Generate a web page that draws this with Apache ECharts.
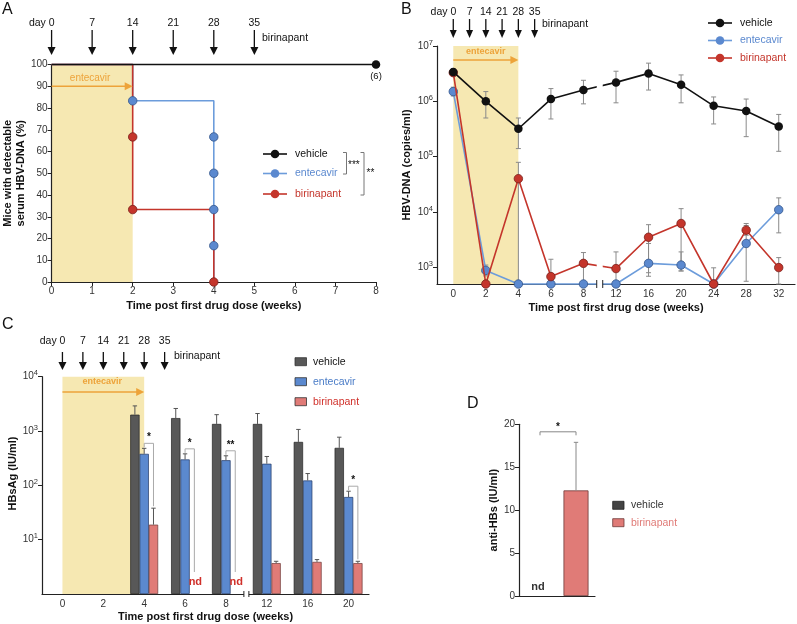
<!DOCTYPE html>
<html><head><meta charset="utf-8">
<script src="https://cdn.jsdelivr.net/npm/echarts@6.0.0/dist/echarts.min.js"></script>
<style>html,body{margin:0;padding:0;background:#fff;}#c{width:797px;height:624px;}</style>
</head><body><div id="c"></div>
<script>
// ---------------- data ----------------
// Panel A (Kaplan-Meier style, % mice with detectable HBV-DNA)
const aVehicleLine = [[0,100],[8,100]];
const aEntecavirLine = [[0,100],[2,83.3],[4,0]];
const aBirinapantLine = [[0,100],[2,33.3],[4,0]];
const aVehiclePts = [[8,100]];
const aEntecavirPts = [[2,83.3],[4,66.7],[4,50],[4,33.3],[4,16.7]];
const aBirinapantPts = [[2,66.7],[2,33.3],[4,0]];
const doseDays = [0,7,14,21,28,35];

// Panel B (HBV-DNA copies/ml)
const bCats = ['0','2','4','6','8','12','16','20','24','28','32'];
const bVehicle   = [3.4e6, 1.0e6, 3.2e5, 1.1e6, 1.6e6, 2.2e6, 3.2e6, 2.0e6, 8.3e5, 6.7e5, 3.5e5];
const bVehicleLo = [3.0e6, 5.0e5, 1.4e5, 4.8e5, 9.0e5, 9.4e5, 1.6e6, 9.4e5, 3.9e5, 2.3e5, 1.25e5];
const bVehicleHi = [3.8e6, 1.5e6, 5.0e5, 1.7e6, 2.4e6, 3.5e6, 4.9e6, 3.0e6, 1.2e6, 1.1e6, 5.8e5];
const bEntecavir   = [1.5e6, 880, 500, 500, 500, 500, 1180, 1100, 500, 2700, 1.1e4];
const bEntecavirLo = [1.25e6, 700, null, null, null, null, 800, 860, null, 560, 4200];
const bEntecavirHi = [1.8e6, 1100, null, null, null, null, 2700, 1900, null, 5700, 1.8e4];
const bBirinapant   = [3.3e6, 500, 4.0e4, 680, 1180, 950, 3500, 6200, 500, 4700, 990];
const bBirinapantLo = [3.0e6, null, 500, 500, 500, 500, 690, 860, 500, 3800, 500];
const bBirinapantHi = [3.6e6, null, 7.9e4, 1400, 1850, 1900, 5900, 1.15e4, 980, 6200, 1500];

// Panel C (HBsAg IU/ml)
const cCats = ['0','2','4','6','8','12','16','20'];
const cVehicle     = [null, null, 2000, 1730, 1350, 1350, 630, 490];
const cVehicleHi   = [null, null, 2900, 2600, 2000, 2100, 1070, 770];
const cEntecavir   = [null, null, 380, 300, 290, 250, 123, 61];
const cEntecavirHi = [null, null, 480, 380, 350, 340, 165, 78];
const cBirinapant  = [null, null, 18.9, null, null, 3.7, 3.9, 3.7];
const cBirinapantHi= [null, null, 38, null, null, 4.0, 4.3, 4.0];
const cSig = [[2,'*'],[3,'*'],[4,'**'],[7,'*']];

// Panel D (anti-HBs IU/ml)
const dCats = ['vehicle','birinapant'];
const dValues = [null, 12.3];
const dErrHi  = [null, 17.9];

// ---------------- style ----------------
const FONT = '"Liberation Sans", Arial, Helvetica, sans-serif';
const BLUE = '#5b89cf', BLUE_L = '#6c9cdb', RED = '#c4352b', SAL = '#e07b77', VGRAY = '#585858', ORANGE = '#eda33a', YEL = '#f6e8b2';
const chart = echarts.init(document.getElementById('c'));

function logLabel(v){ return '10{s|' + Math.round(Math.log10(v)) + '}'; }
const supRich = { s: { fontSize: 7.5, padding: [0,0,7,0], fontFamily: FONT, color:'#333' } };
const nameStyle = { fontWeight:'bold', fontSize:11, fontFamily:FONT, color:'#111', lineHeight:13 };
const axLine = { lineStyle:{ color:'#222', width:1.2 } };
const axTick = { length:4, lineStyle:{ color:'#222', width:1 } };
function lab(extra){ return Object.assign({ color:'#333', fontSize:10, fontFamily:FONT, margin:4 }, extra||{}); }

function bandRender(params, api){
  const p0 = api.coord([api.value(0), api.value(2)]);
  const p1 = api.coord([api.value(1), api.value(3)]);
  return { type:'rect', shape:{ x:p0[0], y:p1[1], width:p1[0]-p0[0], height:p0[1]-p1[1] }, style:{ fill:YEL } };
}
function errFull(color){
  return function(params, api){
    const x = api.value(0), lo = api.value(1), hi = api.value(2);
    const pH = api.coord([x,hi]), pL = api.coord([x,lo]); const c = 2.5;
    const st = { stroke:color, lineWidth:1 };
    return { type:'group', children:[
      { type:'line', shape:{x1:pH[0],y1:pH[1],x2:pL[0],y2:pL[1]}, style:st },
      { type:'line', shape:{x1:pH[0]-c,y1:pH[1],x2:pH[0]+c,y2:pH[1]}, style:st },
      { type:'line', shape:{x1:pL[0]-c,y1:pL[1],x2:pL[0]+c,y2:pL[1]}, style:st } ] };
  };
}
function errUp(offset, color){
  return function(params, api){
    const x = api.value(0), v = api.value(1), hi = api.value(2);
    const p0 = api.coord([x,v]), p1 = api.coord([x,hi]); const X = p0[0] + offset; const c = 2.2;
    const st = { stroke:color, lineWidth:1 };
    return { type:'group', children:[
      { type:'line', shape:{x1:X,y1:p0[1],x2:X,y2:p1[1]}, style:st },
      { type:'line', shape:{x1:X-c,y1:p1[1],x2:X+c,y2:p1[1]}, style:st } ] };
  };
}
function errData(vals, lo, hi){ return vals.map((v,i)=>[i, lo ? lo[i] : v, hi[i]]).filter(d=>d[1]!=null && d[2]!=null); }
function nz(arr){ return arr.map(v => v==null ? '-' : v); }

const BAR_W = 9.3;

const option = {
  animation:false,
  textStyle:{ fontFamily:FONT },
  grid:[
    { left:51, top:64.5, width:325, height:217.5 },
    { left:437, top:46, width:358, height:238 },
    { left:42, top:376.7, width:327, height:218.3 },
    { left:519, top:424.3, width:76, height:171.7 }
  ],
  xAxis:[
    { gridIndex:0, type:'value', min:0, max:8, interval:1, splitLine:{show:false}, axisLine:axLine, axisTick:axTick, axisLabel:lab(),
      name:'Time post first drug dose (weeks)', nameLocation:'middle', nameGap:17, nameTextStyle:nameStyle },
    { gridIndex:1, type:'category', data:bCats, boundaryGap:true, axisLine:axLine, axisTick:Object.assign({alignWithLabel:true, interval:0}, axTick), axisLabel:lab({interval:0, margin:5}),
      name:'Time post first drug dose (weeks)', nameLocation:'middle', nameGap:17, nameTextStyle:nameStyle },
    { gridIndex:2, type:'category', data:cCats, boundaryGap:true, axisLine:axLine, axisTick:Object.assign({alignWithLabel:true, interval:0}, axTick), axisLabel:lab({interval:0, margin:5}),
      name:'Time post first drug dose (weeks)', nameLocation:'middle', nameGap:16, nameTextStyle:nameStyle },
    { gridIndex:3, type:'category', data:dCats, boundaryGap:true, axisLine:axLine, axisTick:{show:false}, axisLabel:{show:false} }
  ],
  yAxis:[
    { gridIndex:0, type:'value', min:0, max:100, interval:10, splitLine:{show:false}, axisLine:Object.assign({show:true}, axLine), axisTick:Object.assign({show:true}, axTick), axisLabel:lab(),
      name:'Mice with detectable\nserum HBV-DNA (%)', nameLocation:'middle', nameGap:24, nameTextStyle:nameStyle },
    { gridIndex:1, type:'log', logBase:10, min:500, max:1e7, splitLine:{show:false}, axisLine:Object.assign({show:true}, axLine), axisTick:Object.assign({show:true}, axTick),
      axisLabel:lab({formatter:logLabel, rich:supRich, showMinLabel:false}),
      name:'HBV-DNA (copies/ml)', nameLocation:'middle', nameGap:22, nameTextStyle:nameStyle },
    { gridIndex:2, type:'log', logBase:10, min:1, max:1e4, splitLine:{show:false}, axisLine:Object.assign({show:true}, axLine), axisTick:Object.assign({show:true}, axTick),
      axisLabel:lab({formatter:logLabel, rich:supRich, showMinLabel:false}) },
    { gridIndex:3, type:'value', min:0, max:20, interval:5, splitLine:{show:false}, axisLine:Object.assign({show:true}, axLine), axisTick:Object.assign({show:true}, axTick), axisLabel:lab(),
      name:'anti-HBs (IU/ml)', nameLocation:'middle', nameGap:19, nameTextStyle:nameStyle }
  ],
  series:[
    // ---- A ----
    { type:'custom', xAxisIndex:0, yAxisIndex:0, data:[[0,2,0,100]], encode:{x:[0,1], y:[2,3]}, renderItem:bandRender, z:-1, silent:true, clip:false },
    { type:'line', xAxisIndex:0, yAxisIndex:0, data:aEntecavirLine, step:'end', symbol:'none', lineStyle:{color:BLUE_L, width:1.6}, z:3, clip:false },
    { type:'line', xAxisIndex:0, yAxisIndex:0, data:aBirinapantLine, step:'end', symbol:'none', lineStyle:{color:RED, width:1.6}, z:4, clip:false },
    { type:'line', xAxisIndex:0, yAxisIndex:0, data:aVehicleLine, symbol:'none', lineStyle:{color:'#111', width:1.6}, z:5, clip:false },
    { type:'scatter', xAxisIndex:0, yAxisIndex:0, data:aEntecavirPts, symbolSize:8.5, itemStyle:{color:BLUE, borderColor:'#34558a', borderWidth:0.8, opacity:1}, z:6, clip:false },
    { type:'scatter', xAxisIndex:0, yAxisIndex:0, data:aBirinapantPts, symbolSize:8.5, itemStyle:{color:RED, borderColor:'#7a1f1a', borderWidth:0.8, opacity:1}, z:6, clip:false },
    { type:'scatter', xAxisIndex:0, yAxisIndex:0, data:aVehiclePts, symbolSize:8.5, itemStyle:{color:'#111', opacity:1}, z:6, clip:false },
    // ---- B ----
    { type:'custom', xAxisIndex:1, yAxisIndex:1, data:[[0,2,500,1e7]], encode:{x:[0,1], y:[2,3]}, renderItem:bandRender, z:-1, silent:true, clip:false },
    { type:'custom', xAxisIndex:1, yAxisIndex:1, data:errData(bVehicle,bVehicleLo,bVehicleHi), encode:{x:0, y:[1,2]}, renderItem:errFull('#8a8a8a'), z:2, clip:false },
    { type:'custom', xAxisIndex:1, yAxisIndex:1, data:errData(bEntecavir,bEntecavirLo,bEntecavirHi), encode:{x:0, y:[1,2]}, renderItem:errFull('#8a8a8a'), z:2, clip:false },
    { type:'custom', xAxisIndex:1, yAxisIndex:1, data:errData(bBirinapant,bBirinapantLo,bBirinapantHi), encode:{x:0, y:[1,2]}, renderItem:errFull('#8a8a8a'), z:2, clip:false },
    { type:'line', xAxisIndex:1, yAxisIndex:1, data:bEntecavir, symbol:'circle', symbolSize:8.5, lineStyle:{color:BLUE_L, width:1.6}, itemStyle:{color:BLUE, borderColor:'#34558a', borderWidth:0.8}, z:4, clip:false },
    { type:'line', xAxisIndex:1, yAxisIndex:1, data:bBirinapant, symbol:'circle', symbolSize:8.5, lineStyle:{color:RED, width:1.6}, itemStyle:{color:RED, borderColor:'#7a1f1a', borderWidth:0.8}, z:5, clip:false },
    { type:'line', xAxisIndex:1, yAxisIndex:1, data:bVehicle, symbol:'circle', symbolSize:8.5, lineStyle:{color:'#111', width:1.6}, itemStyle:{color:'#111'}, z:6, clip:false },
    // ---- C ----
    { type:'custom', xAxisIndex:2, yAxisIndex:2, data:[[0,2,1,1e4]], encode:{x:[0,1], y:[2,3]}, renderItem:bandRender, z:-1, silent:true, clip:false },
    { type:'bar', xAxisIndex:2, yAxisIndex:2, data:nz(cVehicle), barWidth:BAR_W, barGap:'0%', itemStyle:{color:VGRAY, borderColor:'#222', borderWidth:0.7}, z:3 },
    { type:'bar', xAxisIndex:2, yAxisIndex:2, data:nz(cEntecavir), barWidth:BAR_W, barGap:'0%', itemStyle:{color:BLUE, borderColor:'#223a66', borderWidth:0.7}, z:3 },
    { type:'bar', xAxisIndex:2, yAxisIndex:2, data:nz(cBirinapant), barWidth:BAR_W, barGap:'0%', itemStyle:{color:SAL, borderColor:'#6d3a38', borderWidth:0.7}, z:3 },
    { type:'custom', xAxisIndex:2, yAxisIndex:2, data:errData(cVehicle,null,cVehicleHi), encode:{x:0, y:[1,2]}, renderItem:errUp(-BAR_W,'#555'), z:4, clip:false },
    { type:'custom', xAxisIndex:2, yAxisIndex:2, data:errData(cEntecavir,null,cEntecavirHi), encode:{x:0, y:[1,2]}, renderItem:errUp(0,'#555'), z:4, clip:false },
    { type:'custom', xAxisIndex:2, yAxisIndex:2, data:errData(cBirinapant,null,cBirinapantHi), encode:{x:0, y:[1,2]}, renderItem:errUp(BAR_W,'#555'), z:4, clip:false },
    // ---- D ----
    { type:'bar', xAxisIndex:3, yAxisIndex:3, data:nz(dValues), barWidth:25, itemStyle:{color:SAL, borderColor:'#6d3a38', borderWidth:0.8}, z:3 },
    { type:'custom', xAxisIndex:3, yAxisIndex:3, data:errData(dValues,null,dErrHi), encode:{x:0, y:[1,2]}, renderItem:errUp(0,'#888'), z:4, clip:false }
  ]
};
chart.setOption(option);

// ---------------- annotations ----------------
const G = [];
const px = (g, p) => chart.convertToPixel({gridIndex:g}, p);
function T(x, y, text, o, rot){ G.push({ type:'text', x, y, z:100, rotation:rot||0, style:Object.assign({ text, fill:'#111', font:'10.5px ' + FONT, align:'left', verticalAlign:'middle' }, o||{}) }); }
function L(x1,y1,x2,y2,color,w){ G.push({ type:'line', z:100, shape:{x1,y1,x2,y2}, style:{ stroke:color||'#111', lineWidth:w||1 } }); }
function P(points, fill){ G.push({ type:'polygon', z:100, shape:{points}, style:{ fill } }); }
function R(x,y,w,h,fill,stroke){ G.push({ type:'rect', z:100, shape:{x,y,width:w,height:h}, style:{ fill, stroke:stroke||null, lineWidth:stroke?0.8:0 } }); }
function C(cx,cy,r,fill,stroke){ G.push({ type:'circle', z:101, shape:{cx,cy,r}, style:{ fill, stroke:stroke||null, lineWidth:stroke?0.8:0 } }); }
function downArrow(x, y0, y1, hw){ L(x, y0, x, y1-6, '#111', 1.3); P([[x-hw,y1-8],[x+hw,y1-8],[x,y1]], '#111'); }
function rightArrow(x0, x1, y){ L(x0, y, x1-6, y, ORANGE, 1.3); P([[x1-8,y-4],[x1-8,y+4],[x1,y]], ORANGE); }
function dayRow(xs, yLab, y0, y1, hw, birX, birY){
  doseDays.forEach((d,i) => {
    const x = xs(d);
    if (i === 0) T(x+3, yLab, 'day 0', {align:'right'}); else T(x, yLab, String(d), {align:'center'});
    downArrow(x, y0, y1, hw);
  });
  T(birX, birY, 'birinapant');
}
function lineLegend(x, y, color, mColor, text, tColor){
  L(x, y, x+24, y, color, 1.6); C(x+12, y, 4.3, mColor); T(x+32, y, text, {fill:tColor});
}

// Panel labels
T(2, 10, 'A', {font:'16px ' + FONT});
T(401, 10, 'B', {font:'16px ' + FONT});
T(2, 325, 'C', {font:'16px ' + FONT});
T(467, 404, 'D', {font:'16px ' + FONT});

// ---- A ----
{
  const xs = d => px(0, [d/7, 100])[0];
  dayRow(xs, 23, 30, 55, 4, 262, 38);
  const yArr = px(0, [0, 90])[1];
  const x0 = px(0,[0,90])[0], x2 = px(0,[2,90])[0];
  rightArrow(x0, x2, yArr);
  T((x0+x2)/2 - 2, yArr - 8, 'entecavir', {fill:ORANGE, align:'center', font:'10px ' + FONT});
  const p8 = px(0, [8, 100]);
  T(p8[0], p8[1] + 12, '(6)', {align:'center', font:'9.5px ' + FONT});
  lineLegend(263, 154, '#111', '#111', 'vehicle', '#111');
  lineLegend(263, 173.5, BLUE_L, BLUE, 'entecavir', BLUE);
  lineLegend(263, 194, RED, RED, 'birinapant', RED);
  L(346.5, 152.5, 346.5, 174, '#777'); L(343, 152.5, 346.5, 152.5, '#777'); L(343, 174, 346.5, 174, '#777');
  T(348, 165, '***', {font:'10px ' + FONT});
  L(364, 152.5, 364, 195, '#777'); L(360.5, 152.5, 364, 152.5, '#777'); L(360.5, 195, 364, 195, '#777');
  T(366.5, 173, '**', {font:'10px ' + FONT});
}
// ---- B ----
{
  const c0 = px(1, [0, 1e6])[0], c1 = px(1, [1, 1e6])[0];
  const xs = d => c0 + (c1 - c0) * d / 14;
  dayRow(xs, 12, 19, 38, 3.5, 542, 24);
  const x2 = px(1, [2, 1e6])[0];
  rightArrow(c0, x2, 60);
  T((c0+x2)/2, 52, 'entecavir', {fill:ORANGE, align:'center', font:'bold 9px ' + FONT});
  lineLegend(708, 23, '#111', '#111', 'vehicle', '#111');
  lineLegend(708, 40.5, BLUE_L, BLUE, 'entecavir', BLUE);
  lineLegend(708, 58, RED, RED, 'birinapant', RED);
  // axis break between 8 and 12
  const xb = (px(1, [4, 1e6])[0] + px(1, [5, 1e6])[0]) / 2;
  const yTop = px(1, [0, 1e7])[1], yBot = px(1, [0, 500])[1];
  R(xb - 3, yTop, 6, yBot - yTop + 2, '#fff');
  L(xb - 3, yBot - 4, xb - 3, yBot + 4, '#222', 1); L(xb + 3, yBot - 4, xb + 3, yBot + 4, '#222', 1);
}
// ---- C ----
{
  const c0 = px(2, [0, 10])[0], c1 = px(2, [1, 10])[0];
  const xs = d => c0 + (c1 - c0) * d / 14;
  dayRow(xs, 341, 352, 370, 4, 174, 356);
  const x2 = px(2, [2, 10])[0];
  rightArrow(c0, x2, 392);
  T((c0+x2)/2 - 1, 382, 'entecavir', {fill:ORANGE, align:'center', font:'bold 9px ' + FONT});
  T(13, 473.5, 'HBsAg (IU/ml)', {align:'center', font:'bold 11px ' + FONT}, Math.PI/2);
  const yBot = px(2, [0, 1])[1];
  const xb = (px(2, [4, 10])[0] + px(2, [5, 10])[0]) / 2;
  R(xb - 2.5, yBot - 1.5, 5, 3, '#fff');
  L(xb - 2.5, yBot - 3, xb - 2.5, yBot + 3, '#222', 1); L(xb + 2.5, yBot - 3, xb + 2.5, yBot + 3, '#222', 1);
  cSig.forEach(([cat, s]) => {
    const cx = px(2, [cat, 10])[0];
    const xl = cx, xr = cx + BAR_W;
    const yB = px(2, [cat, cEntecavirHi[cat]])[1];
    const yR = cBirinapantHi[cat] != null ? px(2, [cat, cBirinapantHi[cat]])[1] - 2 : yBot - 22;
    const yH = yB - 5;
    L(xl, yH, xr, yH, '#aaa'); L(xl, yH, xl, yB - 1, '#aaa'); L(xr, yH, xr, yR, '#aaa');
    T((xl + xr)/2, yH - 6, s, {align:'center', font:'bold 10px ' + FONT});
    if (cBirinapant[cat] == null) T(xr + 1, yBot - 12, 'nd', {align:'center', fill:'#d0302a', font:'bold 11px ' + FONT});
  });
  [['vehicle', VGRAY, '#111', 361.7], ['entecavir', BLUE, '#4a7cc7', 381.7], ['birinapant', SAL, '#d0302a', 401.7]].forEach(([t, f, tc, y]) => {
    R(295, y - 4, 11.5, 8, f, '#333'); T(313, y, t, {fill:tc});
  });
}
// ---- D ----
{
  const p0 = px(3, [0, 0]), p1 = px(3, [1, 0]);
  T(p0[0], p0[1] - 9, 'nd', {align:'center', fill:'#333', font:'bold 11px ' + FONT});
  const yTop = px(3, [0, 20])[1];
  const yH = yTop + 7.5;
  L(p0[0] + 2, yH, p1[0], yH, '#888'); L(p0[0] + 2, yH, p0[0] + 2, yH + 3.5, '#888'); L(p1[0], yH, p1[0], yH + 3.5, '#888');
  T((p0[0] + p1[0])/2 + 1, yH - 5, '*', {align:'center', font:'bold 10px ' + FONT});
  R(612.7, 501.3, 11.3, 8, '#444', '#222'); T(631, 505.3, 'vehicle', {fill:'#333'});
  R(612.7, 518.7, 11.3, 8, SAL, '#6d3a38'); T(631, 522.7, 'birinapant', {fill:SAL});
}
chart.setOption({ graphic: { elements: G } });
</script></body></html>
